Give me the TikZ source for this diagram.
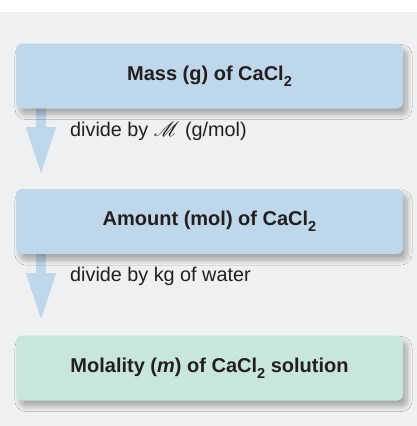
\documentclass[tikz,border=0pt]{standalone}
\usepackage{fontspec}
\setmainfont{Liberation Sans}
\usepackage{mathrsfs}
\usetikzlibrary{arrows.meta,shadows.blur}
\definecolor{bggray}{HTML}{EFF0F2}
\definecolor{boxblue}{HTML}{BED7EB}
\definecolor{boxgreen}{HTML}{C9E6DC}
\definecolor{txt}{HTML}{231F20}
\newcommand{\chemsub}[1]{\raisebox{-0.3em}{\fontsize{14.5}{14.5}\selectfont #1}}
\tikzset{
  stepnode/.style={rounded corners=6pt, minimum width=387pt, minimum height=65pt,
    font=\fontsize{20}{23}\selectfont\bfseries, text=txt, inner sep=0pt,
    blur shadow={shadow xshift=4pt, shadow yshift=-6pt, shadow blur radius=5pt, shadow opacity=30, shadow blur steps=12}},
  flowarrow/.style={draw=boxblue, line width=10pt,
    -{Triangle[width=27pt,length=49pt]}},
  steplabel/.style={font=\fontsize{19.8}{23}\selectfont, text=txt, anchor=base west, inner sep=0pt}
}
\begin{document}
\begin{tikzpicture}[x=1pt,y=-1pt]
\useasboundingbox (0,0) rectangle (417,426);
\fill[bggray] (0,12) rectangle (417,426);
\coordinate (a1s) at (41,108);
\coordinate (a1e) at (41,176);
\coordinate (a2s) at (41,254);
\coordinate (a2e) at (41,322);
\draw[flowarrow] (a1s) -- (a1e);
\draw[flowarrow] (a2s) -- (a2e);
\node[stepnode, fill=boxblue] (mass) at (209.5,76) {Mass (g) of CaCl\chemsub{2}};
\node[stepnode, fill=boxblue] (amount) at (209.5,221.5) {Amount (mol) of CaCl\chemsub{2}};
\node[stepnode, fill=boxgreen] (molality) at (209.5,368) {Molality (\textit{m}) of CaCl\chemsub{2} solution};
\node[steplabel] (lab1) at (70,136) {divide by $\mathscr{M}$ (g/mol)};
\node[steplabel] (lab2) at (70,281) {divide by kg of water};
\end{tikzpicture}
\end{document}
